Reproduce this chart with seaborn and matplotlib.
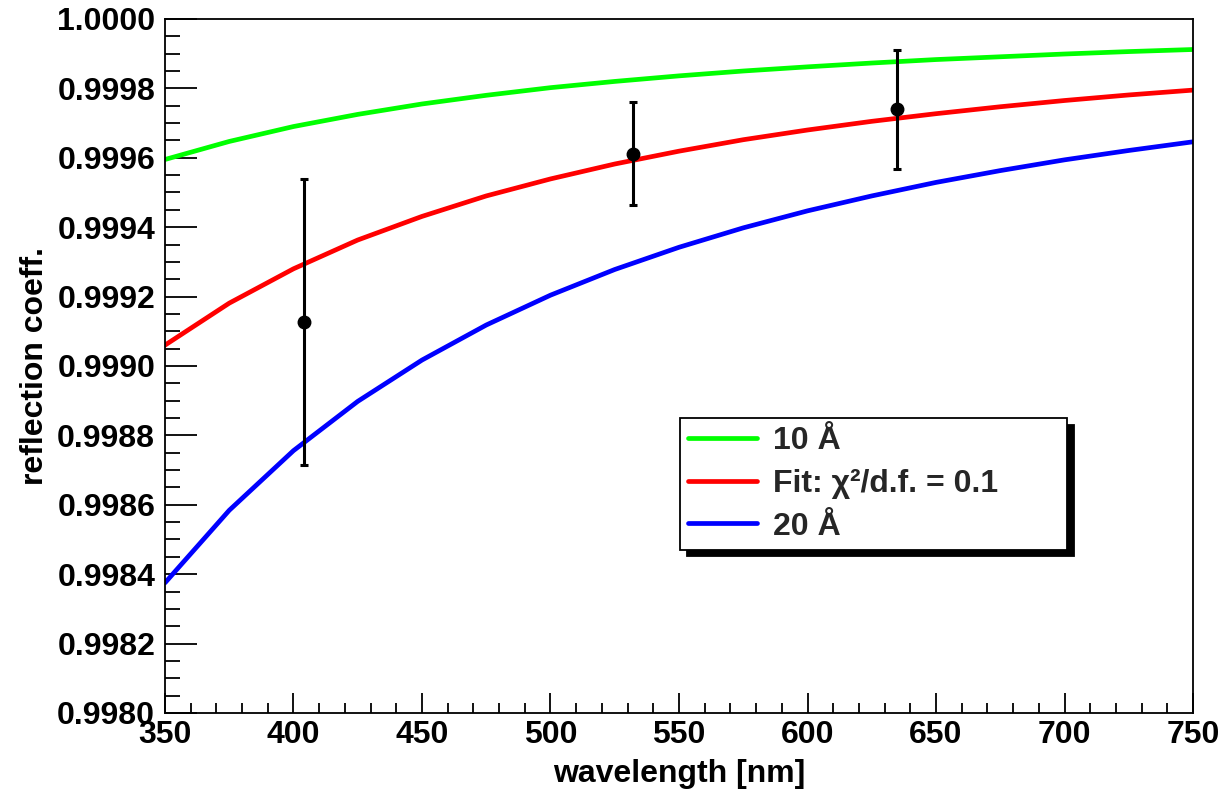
import numpy as np
import pandas as pd
import matplotlib
matplotlib.use("Agg")
import matplotlib.pyplot as plt
from matplotlib.lines import Line2D
from matplotlib.ticker import MultipleLocator, FormatStrFormatter
import seaborn as sns

# Reflection coefficient vs. wavelength for two surface roughness values and the fit
wavelength_nm = [350, 375, 400, 425, 450, 475, 500, 525, 550,
                 575, 600, 625, 650, 675, 700, 725, 750]
refl_10A = [0.999595, 0.999647, 0.999690, 0.999725, 0.999755, 0.999780,
            0.999802, 0.999820, 0.999836, 0.999850, 0.999862, 0.999873,
            0.999883, 0.999891, 0.999899, 0.999906, 0.999912]
refl_fit = [0.999060, 0.999181, 0.999280, 0.999363, 0.999431, 0.999490,
            0.999539, 0.999582, 0.999619, 0.999652, 0.999680, 0.999705,
            0.999727, 0.999747, 0.999765, 0.999781, 0.999795]
refl_20A = [0.998375, 0.998584, 0.998756, 0.998898, 0.999017, 0.999118,
            0.999204, 0.999278, 0.999342, 0.999398, 0.999447, 0.999490,
            0.999529, 0.999563, 0.999594, 0.999621, 0.999646]

# Measured points with uncertainties
meas_wavelength = [404, 532, 635]
meas_refl = [0.999128, 0.999612, 0.999740]
meas_err = [0.000412, 0.000149, 0.000171]

series_labels = ["10 Å", "Fit: χ²/d.f. = 0.1", "20 Å"]
series_colors = ["#00ff00", "#ff0000", "#0000ff"]

df = pd.DataFrame({
    "wavelength": wavelength_nm * 3,
    "refl": refl_10A + refl_fit + refl_20A,
    "series": [series_labels[0]] * len(wavelength_nm)
              + [series_labels[1]] * len(wavelength_nm)
              + [series_labels[2]] * len(wavelength_nm),
})

sns.set_theme(style="ticks")
plt.rcParams["font.family"] = ["Liberation Sans", "DejaVu Sans"]
plt.rcParams["font.weight"] = "bold"
plt.rcParams["axes.labelweight"] = "bold"

fig = plt.figure(figsize=(12.22, 7.90), dpi=100)
ax = fig.add_axes([0.135, 0.0975, 0.8413, 0.8785])

sns.lineplot(data=df, x="wavelength", y="refl", hue="series",
             palette=dict(zip(series_labels, series_colors)),
             hue_order=series_labels, linewidth=3.4, ax=ax, legend=False)

ax.errorbar(meas_wavelength, meas_refl, yerr=meas_err, fmt="o", color="black",
            markersize=9, elinewidth=2.2, capsize=3, capthick=2.2, zorder=5)

ax.set_xlim(350, 750)
ax.set_ylim(0.9980, 1.0000)

ax.xaxis.set_major_locator(MultipleLocator(50))
ax.xaxis.set_minor_locator(MultipleLocator(10))
ax.yaxis.set_major_locator(MultipleLocator(0.0002))
ax.yaxis.set_minor_locator(MultipleLocator(0.00005))
ax.yaxis.set_major_formatter(FormatStrFormatter("%.4f"))

ax.tick_params(axis="both", which="both", direction="in", color="black",
               width=1.3, labelsize=23, labelcolor="black")
ax.tick_params(axis="y", which="major", length=23, pad=7)
ax.tick_params(axis="y", which="minor", length=11)
ax.tick_params(axis="x", which="major", length=14.5, pad=5)
ax.tick_params(axis="x", which="minor", length=7)
for lab in ax.get_xticklabels() + ax.get_yticklabels():
    lab.set_fontweight("bold")

for sp in ax.spines.values():
    sp.set_color("black")
    sp.set_linewidth(1.3)
    sp.set_visible(True)

ax.set_xlabel("wavelength [nm]", fontsize=23, fontweight="bold", color="black")
ax.set_ylabel("reflection coeff.", fontsize=23, fontweight="bold", color="black")
ax.xaxis.set_label_coords(0.5, -0.066)
ax.yaxis.set_label_coords(-0.112, 0.5)

handles = [Line2D([], [], color=c, linewidth=3.4) for c in series_colors]
leg = ax.legend(handles, series_labels, loc="upper left",
                bbox_to_anchor=(0.501, 0.239, 0.376, 0.186), mode="expand",
                borderaxespad=0, fontsize=23, frameon=True, fancybox=False,
                shadow={"color": "black", "alpha": 1, "ox": 5, "oy": -5},
                handlelength=2.16, handletextpad=0.5, borderpad=0.25,
                labelspacing=0.4)
leg.get_frame().set_edgecolor("black")
leg.get_frame().set_linewidth(1.3)
leg.get_frame().set_facecolor("white")
leg.get_frame().set_alpha(1)
for t in leg.get_texts():
    t.set_fontweight("bold")

fig.savefig("out.png", dpi=100)
